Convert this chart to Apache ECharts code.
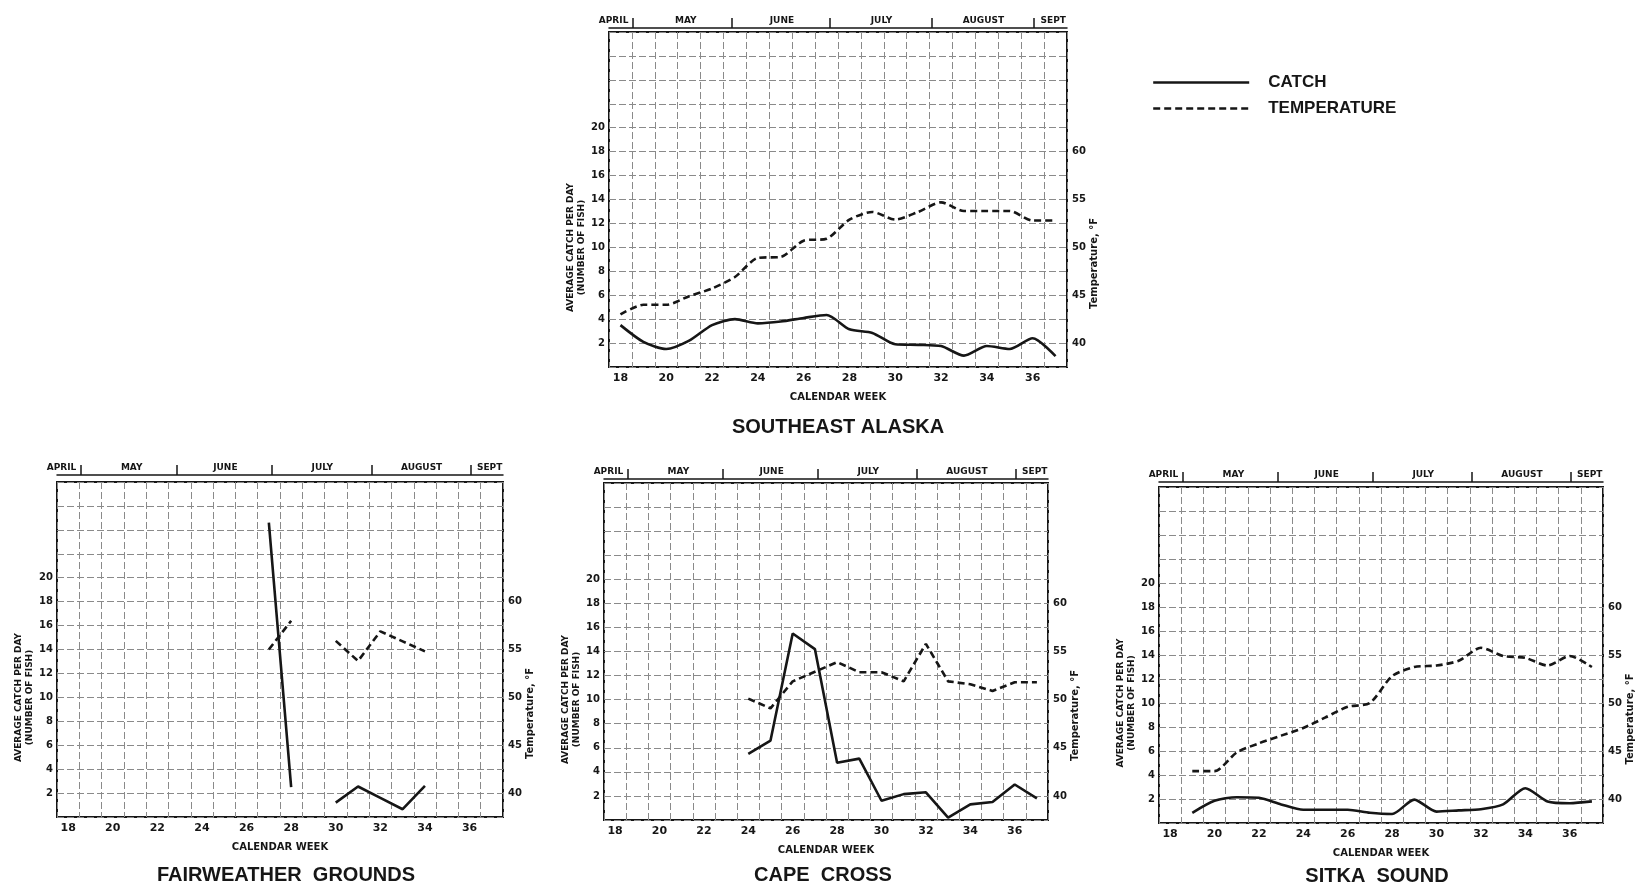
<!DOCTYPE html>
<html>
<head>
<meta charset="utf-8">
<script src="https://cdn.jsdelivr.net/npm/echarts@6/dist/echarts.min.js"></script>
<style>
  html, body { margin: 0; padding: 0; background: #ffffff; }
  #chart { width: 1646px; height: 889px; }
</style>
</head>
<body>
<div id="chart"></div>
<script>
// Calendar weeks on the x axis (one value per week in every series below)
const weeks = [18, 19, 20, 21, 22, 23, 24, 25, 26, 27, 28, 29, 30, 31, 32, 33, 34, 35, 36, 37];

// Average catch per day (number of fish) and water temperature (°F)
const seAlaskaCatch = [3.5, 2.1, 1.5, 2.2, 3.5, 4.0, 3.65, 3.8, 4.1, 4.35, 3.15, 2.85, 1.9, 1.85, 1.75, 0.95, 1.75, 1.5, 2.4, 0.9];
const seAlaskaTemp  = [43.0, 44.0, 44.0, 44.9, 45.7, 46.9, 48.9, 49.0, 50.7, 50.9, 52.9, 53.7, 52.9, 53.7, 54.7, 53.8, 53.8, 53.8, 52.8, 52.8];

const fairweatherCatch = [null, null, null, null, null, null, null, null, null, 24.6, 2.5, null, 1.2, 2.55, 1.6, 0.65, 2.6, null, null, null];
const fairweatherTemp  = [null, null, null, null, null, null, null, null, null, 55.0, 58.0, null, 55.9, 53.8, 56.9, 55.85, 54.8, null, null, null];

const capeCrossCatch = [null, null, null, null, null, null, 5.5, 6.6, 15.5, 14.2, 4.75, 5.1, 1.6, 2.15, 2.3, 0.2, 1.3, 1.5, 2.95, 1.8];
const capeCrossTemp  = [null, null, null, null, null, null, 50.1, 49.1, 51.9, 52.9, 53.9, 52.85, 52.85, 51.9, 55.8, 51.9, 51.6, 50.9, 51.8, 51.8];

const sitkaCatch = [null, 0.85, 1.85, 2.15, 2.1, 1.55, 1.1, 1.1, 1.1, 0.85, 0.75, 1.95, 0.95, 1.05, 1.15, 1.55, 2.9, 1.8, 1.65, 1.8];
const sitkaTemp  = [null, 42.9, 42.9, 44.85, 45.8, 46.6, 47.4, 48.5, 49.6, 50.0, 52.8, 53.75, 53.9, 54.4, 55.75, 54.9, 54.7, 53.9, 54.9, 53.75];

// Tick labels
const weekTicks = [18, 20, 22, 24, 26, 28, 30, 32, 34, 36];
const catchTicks = [2, 4, 6, 8, 10, 12, 14, 16, 18, 20];
const tempTicks = [40, 45, 50, 55, 60];

// Month header above each panel (positions in calendar weeks)
const monthNames = ['APRIL', 'MAY', 'JUNE', 'JULY', 'AUGUST', 'SEPT'];
const monthCenters = [17.7, 20.85, 25.05, 29.4, 33.85, 36.9];
const monthBounds = [18.55, 22.85, 27.15, 31.6, 36.05];

const panels = [
  { title: 'SOUTHEAST ALASKA', catchData: seAlaskaCatch, tempData: seAlaskaTemp, smooth: 0.25 },
  { title: 'FAIRWEATHER  GROUNDS', catchData: fairweatherCatch, tempData: fairweatherTemp, smooth: false },
  { title: 'CAPE  CROSS', catchData: capeCrossCatch, tempData: capeCrossTemp, smooth: false },
  { title: 'SITKA  SOUND', catchData: sitkaCatch, tempData: sitkaTemp, smooth: 0.25 }
];

// Panel placement on the page
const layout = [
  { left: 609, top: 32, width: 458, height: 335, monthOffset: 4, titleX: 838, titleY: 417 },
  { left: 57, top: 482, width: 446, height: 335, monthOffset: 7, titleX: 286, titleY: 865 },
  { left: 604, top: 483, width: 444, height: 337, monthOffset: 4, titleX: 823, titleY: 865 },
  { left: 1159, top: 487, width: 444, height: 336, monthOffset: 5, titleX: 1377, titleY: 866 }
];

const INK = '#161616';
const GRIDC = '#8a8a8a';
const SMALL = 'DejaVu Sans';
const BIG = 'Liberation Sans';

const smallText = (size) => ({ fontFamily: SMALL, fontWeight: 'bold', fontSize: size, color: INK });
const gridLine = { show: true, lineStyle: { color: GRIDC, width: 1, type: [7, 3] } };

const grids = [], xAxes = [], yAxes = [], series = [], titles = [];

panels.forEach((p, i) => {
  const L = layout[i];
  grids.push({
    left: L.left, top: L.top, width: L.width, height: L.height,
    show: true, borderColor: INK, borderWidth: 2, backgroundColor: 'transparent'
  });

  titles.push({
    text: p.title, left: L.titleX, top: L.titleY, textAlign: 'center', padding: 0,
    textStyle: { fontFamily: BIG, fontWeight: 'bold', fontSize: 20, color: INK }
  });

  // bottom week axis with half-week grid columns
  xAxes.push({
    gridIndex: i, type: 'value', position: 'bottom', min: 17.5, max: 37.5, interval: 1,
    axisLine: { show: false }, axisTick: { show: false },
    splitLine: gridLine,
    axisLabel: Object.assign({ customValues: weekTicks, margin: 6 }, smallText(11)),
    name: 'CALENDAR WEEK', nameLocation: 'middle', nameGap: 25,
    nameTextStyle: smallText(10)
  });
});

// month header axes along the top edge
panels.forEach((p, i) => {
  const L = layout[i];
  xAxes.push({
    gridIndex: i, type: 'value', position: 'top', min: 17.5, max: 37.5, offset: L.monthOffset,
    axisLine: { show: true, lineStyle: { color: INK, width: 1.5 } },
    axisTick: { show: true, customValues: monthBounds, length: 10, lineStyle: { color: INK, width: 1.5 } },
    splitLine: { show: false },
    axisLabel: Object.assign({
      customValues: monthCenters, margin: 3,
      formatter: (v) => {
        let k = 0, best = Infinity;
        monthCenters.forEach((c, j) => { if (Math.abs(c - v) < best) { best = Math.abs(c - v); k = j; } });
        return monthNames[k];
      }
    }, smallText(9))
  });
});

panels.forEach((p, i) => {
  yAxes.push({
    gridIndex: i, type: 'value', position: 'left', min: 0, max: 28, interval: 2,
    axisLine: { show: false }, axisTick: { show: false },
    splitLine: gridLine,
    axisLabel: Object.assign({ margin: 4, formatter: (v) => catchTicks.includes(v) ? String(v) : '' }, smallText(10)),
    name: 'AVERAGE CATCH PER DAY\n(NUMBER OF FISH)', nameLocation: 'middle', nameRotate: 90, nameGap: 20,
    nameTextStyle: Object.assign({ lineHeight: 11, padding: [0, 96, 0, 0] }, smallText(9))
  });
});

panels.forEach((p, i) => {
  yAxes.push({
    gridIndex: i, type: 'value', position: 'right', min: 37.5, max: 72.5, interval: 2.5,
    axisLine: { show: false }, axisTick: { show: false }, splitLine: { show: false },
    axisLabel: Object.assign({ margin: 5, formatter: (v) => tempTicks.includes(v) ? String(v) : '' }, smallText(10)),
    name: 'Temperature, °F', nameLocation: 'middle', nameRotate: 90, nameGap: 20,
    nameTextStyle: Object.assign({ padding: [0, 128, 0, 0] }, smallText(10))
  });
});

panels.forEach((p, i) => {
  series.push({
    type: 'line', name: 'CATCH', xAxisIndex: i, yAxisIndex: i,
    data: weeks.map((w, k) => [w, p.catchData[k]]),
    symbol: 'none', smooth: p.smooth, connectNulls: false,
    lineStyle: { color: INK, width: 2.6 }, itemStyle: { color: INK },
    emphasis: { disabled: true }
  });
  series.push({
    type: 'line', name: 'TEMPERATURE', xAxisIndex: i, yAxisIndex: 4 + i,
    data: weeks.map((w, k) => [w, p.tempData[k]]),
    symbol: 'none', smooth: p.smooth, connectNulls: false,
    lineStyle: { color: INK, width: 2.6, type: [7, 4] }, itemStyle: { color: INK },
    emphasis: { disabled: true }
  });
});

const chart = echarts.init(document.getElementById('chart'), null, { renderer: 'canvas' });
chart.setOption({
  backgroundColor: '#ffffff',
  animation: false,
  title: titles,
  legend: {
    orient: 'vertical', left: 1152, top: 74, padding: 0,
    itemWidth: 96, itemHeight: 20, itemGap: 9,
    data: ['CATCH', 'TEMPERATURE'],
    itemStyle: { opacity: 0 },
    lineStyle: { width: 2.4 },
    textStyle: { fontFamily: BIG, fontWeight: 'bold', fontSize: 17, color: INK, padding: [0, 0, 0, 14] }
  },
  grid: grids,
  xAxis: xAxes,
  yAxis: yAxes,
  series: series
});
</script>
</body>
</html>
